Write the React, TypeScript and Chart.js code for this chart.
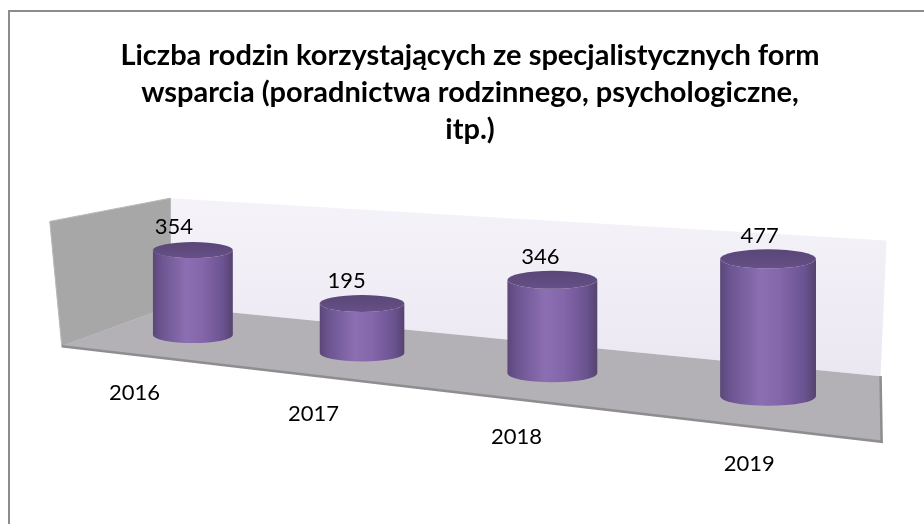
import React, { useEffect, useRef } from "react";
import { Chart, registerables } from "chart.js";

Chart.register(...registerables);

// ---- data ----
const categories = ["2016", "2017", "2018", "2019"];
const values = [354, 195, 346, 477];
const titleLines = [
  "Liczba rodzin korzystających ze specjalistycznych form",
  "wsparcia (poradnictwa rodzinnego, psychologiczne,",
  "itp.)",
];
const yMin = 0;
const yMax = 500;

// ---- layout / style ----
const W = 924;
const H = 524;
const FONT = "Lato, 'Open Sans', 'Liberation Sans', sans-serif";
// pseudo-3D camera parameters
const CAM = {
  k: 0.0556, // perspective growth per category step
  tilt: 0.1065, // floor slope along categories
  vx: 129, // vanishing point relative to chart area right
  vy: -169, // vanishing point relative to chart area top
  back: 0.08, // back wall depth
  front: -0.067, // front edge depth
};

type Pt = { x: number; y: number; s: number };

function project(chart: any, px: number, py: number, dz: number): Pt {
  const xs = chart.scales.x;
  const ys = chart.scales.y;
  const x0 = xs.getPixelForValue(0);
  const step = xs.getPixelForValue(1) - x0;
  const y0 = ys.getPixelForValue(0);
  const du = px - x0;
  const dh = y0 - py;
  const s = 1 / (1 - (CAM.k * du) / step);
  const mx = x0 + du * s;
  const my = y0 + (CAM.tilt * du - dh) * s;
  if (!dz) return { x: mx, y: my, s };
  const ca = chart.chartArea;
  const vx = ca.right + CAM.vx;
  const vy = ca.top + CAM.vy;
  const t = 1 / (1 + dz * s);
  return { x: vx + (mx - vx) * t, y: vy + (my - vy) * t, s: s * t };
}

function poly(ctx: CanvasRenderingContext2D, pts: Pt[]) {
  ctx.beginPath();
  ctx.moveTo(pts[0].x, pts[0].y);
  for (let i = 1; i < pts.length; i++) ctx.lineTo(pts[i].x, pts[i].y);
  ctx.closePath();
}

function drawCylinder(
  ctx: CanvasRenderingContext2D,
  cx: number,
  topY: number,
  botY: number,
  r: number,
  ry: number
) {
  const g = ctx.createLinearGradient(cx - r, 0, cx + r, 0);
  g.addColorStop(0, "#5B4779");
  g.addColorStop(0.1, "#6B5490");
  g.addColorStop(0.42, "#8C6FB2");
  g.addColorStop(0.62, "#8466AA");
  g.addColorStop(0.88, "#6A5390");
  g.addColorStop(1, "#56436F");
  ctx.beginPath();
  ctx.moveTo(cx - r, topY);
  ctx.lineTo(cx - r, botY);
  ctx.ellipse(cx, botY, r, ry, 0, Math.PI, 0, true);
  ctx.lineTo(cx + r, topY);
  ctx.ellipse(cx, topY, r, ry, 0, 0, Math.PI, false);
  ctx.closePath();
  ctx.fillStyle = g;
  ctx.fill();
  const tg = ctx.createLinearGradient(0, topY - ry, 0, topY + ry);
  tg.addColorStop(0, "#5A4677");
  tg.addColorStop(1, "#665087");
  ctx.beginPath();
  ctx.ellipse(cx, topY, r, ry, 0, 0, Math.PI * 2);
  ctx.fillStyle = tg;
  ctx.fill();
}

const pseudo3d = {
  id: "pseudo3d",
  beforeDraw(chart: any) {
    const ctx: CanvasRenderingContext2D = chart.ctx;
    ctx.save();
    ctx.strokeStyle = "#8C8C8C";
    ctx.lineWidth = 2;
    ctx.beginPath();
    ctx.moveTo(9, H);
    ctx.lineTo(9, 11);
    ctx.lineTo(W, 11);
    ctx.stroke();
    ctx.restore();
  },
  beforeDatasetsDraw(chart: any) {
    const ctx: CanvasRenderingContext2D = chart.ctx;
    const ca = chart.chartArea;
    const ys = chart.scales.y;
    const b = ys.getPixelForValue(yMin);
    const t = ys.getPixelForValue(yMax);
    const L = ca.left;
    const R = ca.right;
    ctx.save();
    // back wall
    const bw = [
      project(chart, L, b, CAM.back),
      project(chart, L, t, CAM.back),
      project(chart, R, t, CAM.back),
      project(chart, R, b, CAM.back),
    ];
    bw[3].x -= 6;
    const bg = ctx.createLinearGradient(0, bw[1].y, 0, bw[3].y);
    bg.addColorStop(0, "#F5F3F9");
    bg.addColorStop(1, "#EBE7F2");
    poly(ctx, bw);
    ctx.fillStyle = bg;
    ctx.fill();
    // left wall (front edge leans slightly outward at the top)
    const lwTopFront = project(chart, L, t, CAM.front);
    lwTopFront.x -= 12;
    const lw = [
      project(chart, L, b, CAM.back),
      project(chart, L, t, CAM.back),
      lwTopFront,
      project(chart, L, b, CAM.front),
    ];
    poly(ctx, lw);
    ctx.fillStyle = "#A7A7A8";
    ctx.fill();
    ctx.strokeStyle = "#B8B8B8";
    ctx.lineWidth = 1;
    ctx.stroke();
    // floor
    const fl = [
      project(chart, L, b, CAM.back),
      project(chart, R, b, CAM.back),
      project(chart, R, b, CAM.front),
      project(chart, L, b, CAM.front),
    ];
    fl[1].x -= 6;
    fl[2].x -= 6;
    poly(ctx, fl);
    ctx.fillStyle = "#B3B1B6";
    ctx.fill();
    ctx.beginPath();
    ctx.moveTo(fl[1].x, fl[1].y);
    ctx.lineTo(fl[2].x, fl[2].y);
    ctx.lineTo(fl[3].x, fl[3].y);
    ctx.strokeStyle = "#8E8D90";
    ctx.lineWidth = 2.5;
    ctx.stroke();
    ctx.restore();
  },
  afterDatasetsDraw(chart: any) {
    const ctx: CanvasRenderingContext2D = chart.ctx;
    const xs = chart.scales.x;
    const step = xs.getPixelForValue(1) - xs.getPixelForValue(0);
    const meta = chart.getDatasetMeta(0);
    const ds = chart.data.datasets[0];
    ctx.save();
    meta.data.forEach((el: any, i: number) => {
      const bot = project(chart, el.x, el.base, 0);
      const top = project(chart, el.x, el.y, 0);
      const r = (el.width * bot.s) / 2;
      const ry = r * 0.2;
      drawCylinder(ctx, bot.x, top.y, bot.y, r, ry);
      // value label
      const u = (el.x - xs.getPixelForValue(0)) / step;
      ctx.fillStyle = "#000";
      ctx.font = `22px ${FONT}`;
      ctx.textAlign = "center";
      ctx.textBaseline = "middle";
      ctx.fillText(String(ds.data[i]), top.x - 19 + 3.5 * u, top.y - 23);
      // category label
      const f = project(chart, el.x, el.base, CAM.front);
      ctx.fillText(String(chart.data.labels[i]), f.x - 9, f.y + 37);
    });
    ctx.restore();
  },
};

export default function App() {
  const ref = useRef<HTMLCanvasElement>(null);
  useEffect(() => {
    document.body.style.margin = "0";
    const canvas = ref.current!;
    const chart = new Chart(canvas, {
      type: "bar",
      data: {
        labels: categories,
        datasets: [
          {
            data: values,
            backgroundColor: "rgba(0,0,0,0)",
            borderWidth: 0,
            barPercentage: 0.5,
            categoryPercentage: 1,
          },
        ],
      },
      options: {
        responsive: false,
        animation: false,
        devicePixelRatio: 1,
        events: [],
        layout: { padding: { left: 16, right: 0, top: 0, bottom: 0 } },
        plugins: {
          legend: { display: false },
          tooltip: { enabled: false },
          title: {
            display: true,
            text: titleLines,
            color: "#000",
            font: { family: FONT, size: 29, weight: "bold", lineHeight: "37px" },
            padding: { top: 37, bottom: 67 },
          },
        },
        scales: {
          x: {
            display: true,
            position: "bottom",
            ticks: { display: false },
            grid: { display: false },
            border: { display: false },
            afterFit: (s: any) => {
              s.height = 189;
            },
          },
          y: {
            display: true,
            position: "left",
            min: yMin,
            max: yMax,
            ticks: { display: false },
            grid: { display: false },
            border: { display: false },
            afterFit: (s: any) => {
              s.width = 97;
            },
          },
          y2: {
            type: "linear",
            display: true,
            position: "right",
            ticks: { display: false },
            grid: { display: false },
            border: { display: false },
            afterFit: (s: any) => {
              s.width = 172;
            },
          },
        },
      } as any,
      plugins: [pseudo3d],
    });
    return () => chart.destroy();
  }, []);
  return (
    <div style={{ width: W, height: H, background: "#fff" }}>
      <canvas
        ref={ref}
        width={W}
        height={H}
        style={{ display: "block", width: W, height: H }}
      />
    </div>
  );
}
